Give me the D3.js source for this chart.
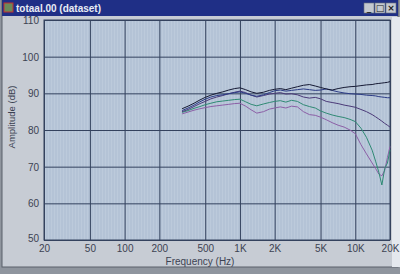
<!DOCTYPE html>
<html>
<head>
<meta charset="utf-8">
<script src="https://cdn.jsdelivr.net/npm/d3@7"></script>
<style>
  body { margin: 0; background: #8f959e; }
  svg { display: block; }
</style>
</head>
<body>
<svg></svg>
<script>
// размеры окна
const width = 400;
const height = 274;

// данные: частоты (Гц) и уровни пяти кривых (дБ)
const freqs = [315, 355, 400, 450, 500, 560, 630, 710, 800, 900, 1000, 1120, 1250, 1400, 1600, 1800, 2000, 2240, 2500, 2800,
    3150, 3550, 4000, 4500, 5000, 5600, 6300, 7100, 8000, 9000, 10000, 11200, 12500, 14000, 15000, 16000, 17000, 18000, 19000, 20000];
const curveBlack = [85.8, 86.5, 87.3, 88.2, 88.9, 89.5, 90.0, 90.4, 90.9, 91.3, 91.5, 91.0, 90.4, 90.0, 90.3, 90.8, 91.1, 91.3, 91.0, 91.4,
    91.8, 92.2, 92.4, 92.0, 91.6, 91.2, 90.9, 91.3, 91.6, 91.8, 91.9, 92.1, 92.3, 92.4, 92.6, 92.7, 92.8, 92.9, 93.0, 93.2];
const curveBlue = [85.3, 86.0, 86.8, 87.7, 88.4, 89.0, 89.4, 89.6, 89.9, 90.2, 90.4, 90.0, 89.5, 89.2, 89.6, 90.2, 90.7, 90.9, 90.6, 90.8,
    91.0, 91.2, 91.0, 90.8, 90.9, 91.2, 90.8, 90.4, 90.1, 89.9, 89.8, 89.7, 89.5, 89.4, 89.3, 89.1, 89.0, 88.9, 88.8, 88.8];
const curvePurple = [85.0, 85.6, 86.4, 87.2, 87.8, 88.5, 89.0, 89.4, 89.9, 90.3, 90.6, 90.2, 89.5, 89.0, 89.4, 89.8, 90.0, 90.2, 89.8, 89.9,
    89.6, 89.0, 88.7, 88.9, 88.5, 87.8, 87.5, 87.2, 86.8, 86.5, 86.2, 85.6, 85.0, 84.2, 83.6, 83.0, 82.4, 81.8, 81.3, 80.8];
const curveGreen = [84.8, 85.3, 85.9, 86.4, 86.9, 87.3, 87.7, 87.9, 88.1, 88.3, 88.4, 87.7, 87.0, 86.6, 87.1, 87.5, 87.8, 88.0, 87.6, 88.1,
    87.8, 86.9, 86.4, 86.0, 85.2, 84.6, 84.1, 83.7, 83.4, 82.9, 82.3, 80.5, 78.0, 74.5, 71.5, 68.5, 65.0, 69.5, 71.0, 74.5];
const curveViolet = [84.4, 84.9, 85.4, 85.8, 86.1, 86.4, 86.6, 86.8, 87.0, 87.2, 87.3, 86.5, 85.5, 84.6, 85.0, 85.7, 86.0, 86.3, 86.0, 86.5,
    86.3, 85.0, 84.2, 84.0, 83.5, 82.8, 82.0, 81.3, 80.8, 80.0, 79.0, 76.0, 73.5, 71.0, 69.5, 68.0, 67.5, 69.0, 72.5, 75.5];

const xTicks = [20, 50, 100, 200, 500, 1000, 2000, 5000, 10000, 20000];
const xTickLabels = ["20", "50", "100", "200", "500", "1K", "2K", "5K", "10K", "20K"];
const yTicks = [50, 60, 70, 80, 90, 100, 110];

const series = [
    { values: curveViolet, color: "#8c5fa6" },
    { values: curveGreen, color: "#2f8a74" },
    { values: curvePurple, color: "#4b3a78" },
    { values: curveBlue, color: "#2c3c86" },
    { values: curveBlack, color: "#161a34" }
];

let svg = d3.select("svg")
    .attr("width", width)
    .attr("height", height);

// рамка окна
svg.append("rect").attr("x", 0).attr("y", 0).attr("width", width).attr("height", height).attr("fill", "#8f959e");
svg.append("rect").attr("x", 2).attr("y", 0).attr("width", 396).attr("height", 267).attr("fill", "#c7ccd4")
    .attr("stroke", "#5a606a").attr("stroke-width", 1);
// светлая полоса справа (край экрана)
svg.append("rect").attr("x", 392).attr("y", 17).attr("width", 8).attr("height", 250).attr("fill", "#e4e8ee");

// заголовок
svg.append("rect").attr("x", 2).attr("y", 0).attr("width", 396).attr("height", 16).attr("fill", "#1f2f86");
svg.append("rect").attr("x", 4).attr("y", 3).attr("width", 9).attr("height", 9).attr("fill", "#6a8a5a").attr("stroke", "#c03030");
svg.append("text").attr("x", 16).attr("y", 12).text("totaal.00 (dataset)")
    .style("font-family", "Liberation Sans, Arial, sans-serif").style("font-size", "10px").style("font-weight", "bold")
    .style("fill", "#e8ecf4");
// кнопки окна
const btns = ["_", "□", "×"];
btns.forEach((b, i) => {
    let bx = 364 + i * 11;
    svg.append("rect").attr("x", bx).attr("y", 3).attr("width", 10).attr("height", 10).attr("fill", "#c4c8d0")
        .attr("stroke", "#6a707a").attr("stroke-width", 0.6);
    svg.append("text").attr("x", bx + 5).attr("y", 11).attr("text-anchor", "middle").text(b)
        .style("font-family", "DejaVu Sans, sans-serif").style("font-size", "9px").style("font-weight", "bold")
        .style("fill", "#202020");
});

// область графика
const margin = { left: 44, top: 20, right: 390, bottom: 240 };
const x = d3.scaleLog().domain([20, 20000]).range([margin.left, margin.right]);
const y = d3.scaleLinear().domain([50, 110]).range([margin.bottom, margin.top]);

// фон и полосатая текстура (муар фото)
let defs = svg.append("defs");
let pat = defs.append("pattern").attr("id", "stripes").attr("width", 3).attr("height", 3)
    .attr("patternUnits", "userSpaceOnUse");
pat.append("rect").attr("width", 3).attr("height", 3).attr("fill", "#b4c3d6");
pat.append("rect").attr("width", 1).attr("height", 3).attr("fill", "#bccadb");

svg.append("rect").attr("x", margin.left).attr("y", margin.top)
    .attr("width", margin.right - margin.left).attr("height", margin.bottom - margin.top)
    .attr("fill", "url(#stripes)");

// сетка и оси
const font = "Liberation Sans, Arial, sans-serif";
let xAxis = svg.append("g").attr("transform", `translate(0,${margin.bottom})`)
    .call(d3.axisBottom(x).tickValues(xTicks).tickFormat((d, i) => xTickLabels[i])
        .tickSize(-(margin.bottom - margin.top)).tickPadding(5));
let yAxis = svg.append("g").attr("transform", `translate(${margin.left},0)`)
    .call(d3.axisLeft(y).tickValues(yTicks).tickFormat(d3.format("d"))
        .tickSize(-(margin.right - margin.left)).tickPadding(5));
[xAxis, yAxis].forEach(a => {
    a.select(".domain").remove();
    a.selectAll(".tick line").attr("stroke", "#34425e").attr("stroke-width", 1);
    a.selectAll(".tick text").style("font-family", font).style("font-size", "10px").style("fill", "#3c4252");
});
yAxis.selectAll(".tick text").attr("dy", "0.35em");
yAxis.selectAll(".tick text").filter(d => d == 50).attr("dy", "0.1em");

// рамка графика
svg.append("rect").attr("x", margin.left).attr("y", margin.top)
    .attr("width", margin.right - margin.left).attr("height", margin.bottom - margin.top)
    .attr("fill", "none").attr("stroke", "#34425e").attr("stroke-width", 1);

// подписи осей
svg.append("text").attr("transform", "translate(15,117) rotate(-90)").attr("text-anchor", "middle")
    .text("Amplitude (dB)").style("font-family", font).style("font-size", "9.5px").style("fill", "#3c4252");
svg.append("text").attr("x", 200).attr("y", 265).attr("text-anchor", "middle")
    .text("Frequency (Hz)").style("font-family", font).style("font-size", "10px").style("fill", "#3c4252");

// кривые
const line = d3.line()
    .x((d, i) => x(freqs[i]))
    .y(d => y(d));
series.forEach(s => {
    svg.append("path")
        .attr("d", line(s.values))
        .attr("fill", "none")
        .attr("stroke", s.color)
        .attr("stroke-width", 1);
});
</script>
</body>
</html>
